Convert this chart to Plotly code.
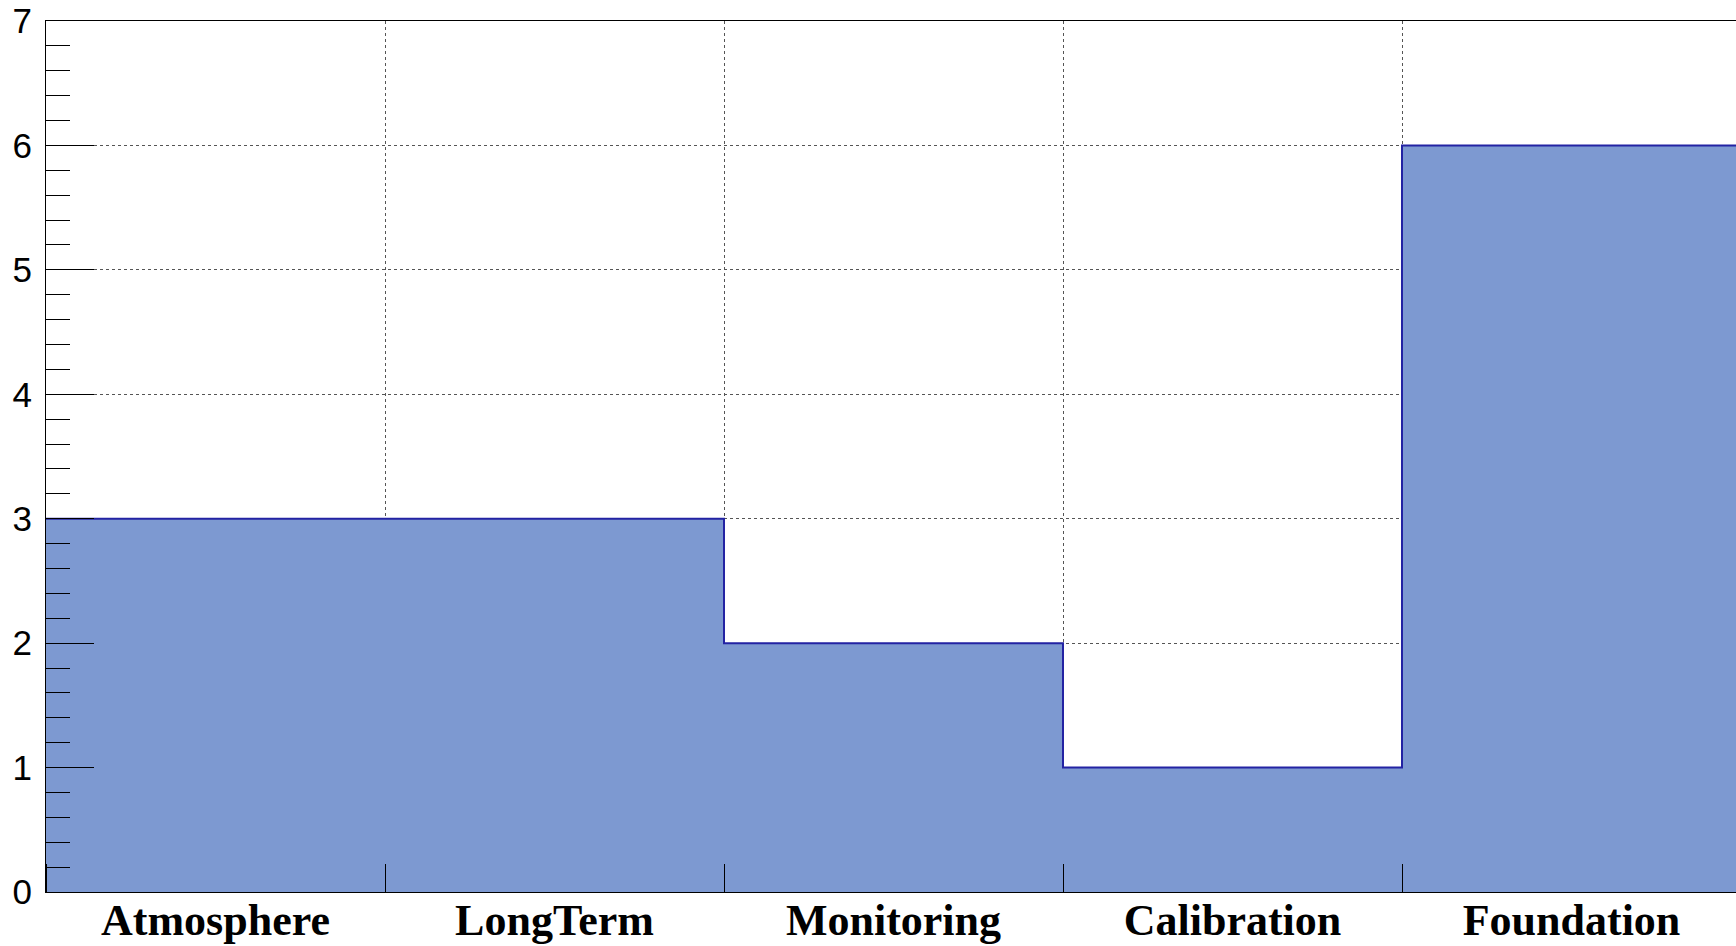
import plotly.graph_objects as go

categories = ["Atmosphere", "LongTerm", "Monitoring", "Calibration", "Foundation"]
values = [3, 3, 2, 1, 6]
y_ticks = [0, 1, 2, 3, 4, 5, 6, 7]

# Step outline: bin edges 0..N, last value repeated to close the step
edges = list(range(len(categories) + 1))
step_y = values + [values[-1]]
centers = [i + 0.5 for i in range(len(categories))]

fig = go.Figure()
fig.add_trace(go.Scatter(
    x=edges, y=step_y,
    mode="lines", line_shape="hv",
    line=dict(color="#2323a3", width=2),
    fill="tozeroy", fillcolor="#7d99d1",
    hoverinfo="skip", showlegend=False,
))

fig.update_layout(
    width=1741, height=946,
    margin=dict(l=46, r=0, t=21, b=54, autoexpand=False),
    paper_bgcolor="white", plot_bgcolor="white",
    xaxis=dict(
        range=[0, len(categories)], automargin=False,
        tickmode="array", tickvals=centers,
        ticktext=[f"<b>{c}</b>" for c in categories],
        ticks="", showgrid=False, zeroline=False, ticklabelstandoff=-11,
        ticklabeloverflow="allow",
        showline=True, linecolor="black", linewidth=1, mirror=True,
        tickfont=dict(family="Liberation Serif", size=44, color="black"),
        minor=dict(tick0=0, dtick=1, ticks="inside", ticklen=28,
                   tickcolor="black", tickwidth=1,
                   showgrid=True, gridcolor="#555555", griddash="dot", gridwidth=1),
        layer="above traces",
    ),
    yaxis=dict(
        range=[0, 7], tickmode="array", tickvals=y_ticks, automargin=False,
        ticks="inside", ticklen=48, tickcolor="black", tickwidth=1,
        showgrid=True, gridcolor="#555555", griddash="dot", gridwidth=1,
        zeroline=False, showline=True, linecolor="black", linewidth=1,
        ticklabelstandoff=6, ticklabeloverflow="allow",
        tickfont=dict(family="Liberation Sans", size=35, color="black"),
        minor=dict(dtick=0.2, ticks="inside", ticklen=24, tickcolor="black",
                   tickwidth=1, showgrid=False),
        layer="above traces",
    ),
)

fig.write_html(
    "out.html",
    config={"displayModeBar": False},
    post_script="document.body.style.margin='0';document.body.style.overflow='hidden';",
)
